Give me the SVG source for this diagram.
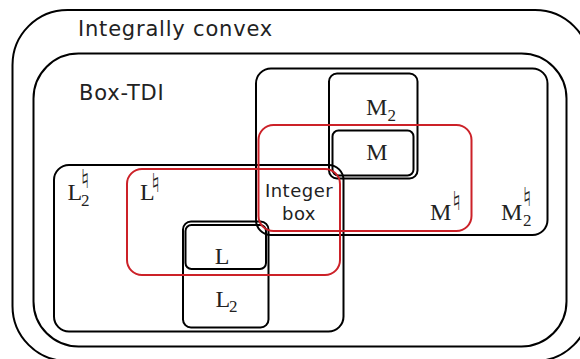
<svg xmlns="http://www.w3.org/2000/svg" width="580" height="359" viewBox="0 0 580 359">
<style>
.k{fill:none;stroke:#000;stroke-width:2}
.r{fill:none;stroke:#cc2128;stroke-width:2}
.t{font-family:"DejaVu Sans",Verdana,sans-serif;fill:#222}
.m{font-family:"Liberation Serif","DejaVu Serif",serif;fill:#222;font-size:24px}
.s{font-family:"Liberation Serif","DejaVu Serif",serif;fill:#222;font-size:17px}
.n{font-family:"DejaVu Sans",sans-serif;fill:#222;font-size:26px}
</style>
<rect width="580" height="359" fill="#fff"/>
<g id="integrally-convex">
<rect class="k" x="12.5" y="10" width="577.5" height="351" rx="55"/>
<text class="t" x="78" y="36" font-size="21" letter-spacing="0.8">Integrally convex</text>
</g>
<g id="box-tdi">
<rect class="k" x="33.5" y="53.5" width="533" height="293" rx="45"/>
<text class="t" x="79" y="100" font-size="21" letter-spacing="0.8">Box-TDI</text>
</g>
<g id="M2-natural">
<rect class="k" x="256" y="68.5" width="291.5" height="166.5" rx="15"/>
<text class="m" x="501" y="220">M</text>
<text class="n" x="522.5" y="206">♮</text>
<text class="s" x="523" y="226">2</text>
</g>
<g id="L2-natural">
<rect class="k" x="54" y="165" width="289.5" height="166.5" rx="15"/>
<text class="m" x="67.5" y="200">L</text>
<text class="n" x="80.5" y="188">♮</text>
<text class="s" x="81" y="206">2</text>
</g>
<g id="M2">
<rect class="k" x="329" y="73.5" width="88.5" height="105" rx="8"/>
<text class="m" x="366" y="115">M</text>
<text class="s" x="387.5" y="121">2</text>
</g>
<g id="M">
<rect class="k" x="332.5" y="130.5" width="81" height="45" rx="6"/>
<text class="m" x="377" y="160" text-anchor="middle">M</text>
</g>
<g id="L2">
<rect class="k" x="183" y="221.5" width="85.5" height="106" rx="8"/>
<text class="m" x="215.5" y="306.5">L</text>
<text class="s" x="229" y="312">2</text>
</g>
<g id="L">
<rect class="k" x="185.5" y="225" width="80.5" height="44" rx="6"/>
<text class="m" x="222" y="263.5" text-anchor="middle">L</text>
</g>
<g id="M-natural">
<rect class="r" x="258.5" y="125" width="213" height="106" rx="15"/>
<text class="m" x="430" y="220">M</text>
<text class="n" x="452" y="210">♮</text>
</g>
<g id="L-natural">
<rect class="r" x="127" y="169" width="213" height="106" rx="15"/>
<text class="m" x="140" y="200">L</text>
<text class="n" x="151" y="192">♮</text>
</g>
<g id="integer-box">
<text class="t" x="299" y="196.5" font-size="18" letter-spacing="0.5" text-anchor="middle">Integer</text>
<text class="t" x="299" y="220" font-size="18" letter-spacing="0.5" text-anchor="middle">box</text>
</g>
</svg>
